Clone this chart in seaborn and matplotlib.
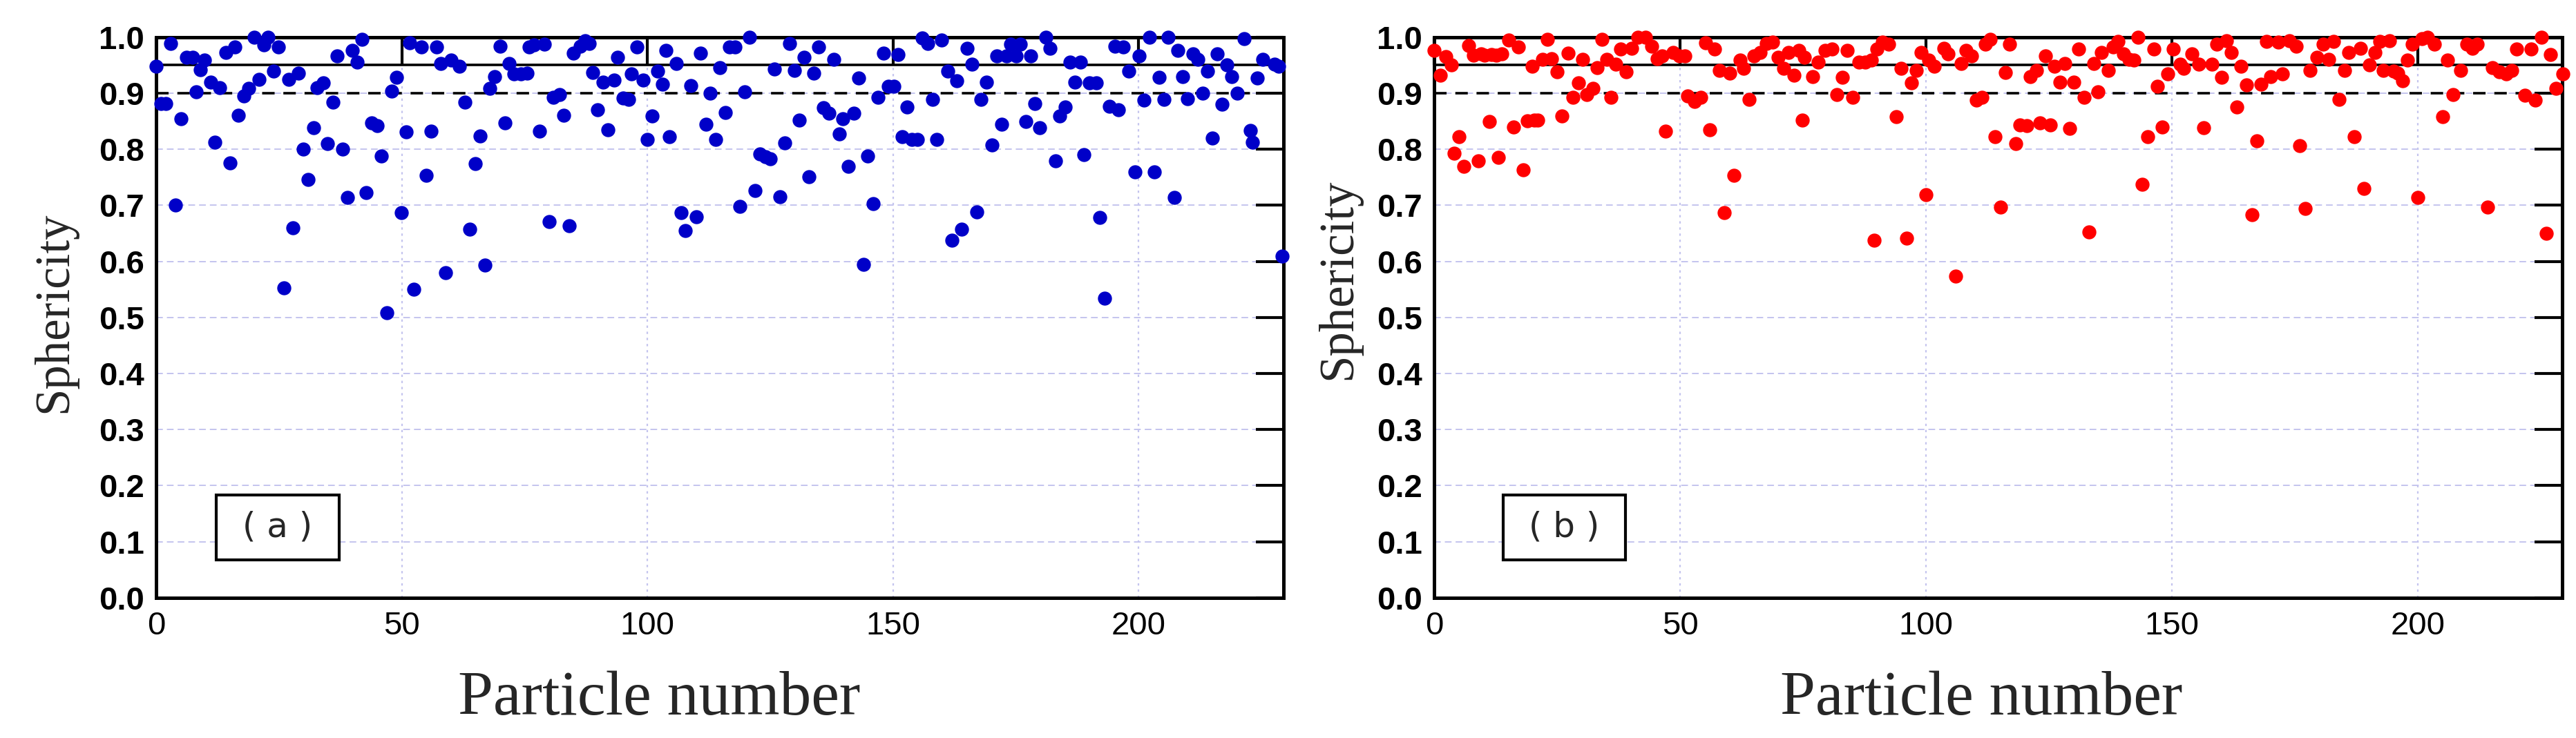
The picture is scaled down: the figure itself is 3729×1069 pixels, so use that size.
import numpy as np
import seaborn as sns
import matplotlib.pyplot as plt
from matplotlib.patches import Rectangle

# (a) particle number / sphericity
a_num = [0, 1, 2, 3, 4, 5, 6.2, 7.4, 8.1, 9, 9.9, 11.1, 12, 13, 14.2, 15, 16, 16.8, 17.9, 18.8,
         20, 20.9, 21.9, 22.8, 23.9, 24.9, 26, 27, 27.9, 29, 29.9, 30.9, 32, 32.7, 34, 34.9, 36, 36.9, 38, 38.9,
         39.9, 40.9, 41.9, 42.8, 43.9, 45, 45.9, 46.9, 47.9, 48.9, 49.9, 50.9, 51.6, 52.5, 54, 55, 55.9, 57.1, 58, 58.9,
         60.1, 61.8, 62.8, 63.8, 64.9, 65.9, 67, 67.9, 68.9, 70, 71, 71.9, 72.9, 74.3, 75.5, 76, 76.9, 78, 79, 80,
         80.9, 82.1, 83, 84.1, 84.9, 86.3, 87.3, 88.2, 88.9, 89.9, 91, 92, 93.2, 93.9, 95, 96.2, 96.7, 97.9, 99.1, 100,
         101, 102.1, 103, 103.8, 104.5, 105.9, 106.8, 107.7, 108.8, 109.9, 110.8, 111.9, 112.8, 113.9, 114.8, 115.8, 116.7, 117.9, 118.8, 119.8,
         120.8, 121.9, 122.9, 124, 125, 125.9, 127, 127.9, 128.9, 129.9, 130.9, 131.9, 132.9, 133.9, 134.9, 135.8, 136.9, 137.9, 139, 139.8,
         140.9, 142, 143, 144, 144.9, 146, 146.9, 148, 149, 150.2, 151, 151.9, 152.9, 153.8, 155, 155.9, 157.1, 158, 158.9, 159.9,
         161.1, 162, 162.9, 164, 165.1, 166, 167, 167.9, 169, 170.1, 171.1, 172.1, 173.1, 174, 175, 175.9, 177.1, 178, 178.9, 179.9,
         181.1, 182, 183.1, 183.9, 185, 186, 187, 188.1, 188.9, 190, 191.4, 192.1, 193.1, 194, 195.2, 195.9, 196.8, 198, 199.2, 200.1,
         201.1, 202.2, 203.2, 204.1, 205.1, 206, 207.2, 208, 209, 210, 211, 212, 213, 214, 215, 216, 217, 218, 219, 220,
         221.5, 222.7, 223.2, 224.1, 225.3, 227.6, 228.5, 229.2]
a_sph = [0.948, 0.882, 0.882, 0.989, 0.70, 0.854, 0.964, 0.964, 0.903, 0.942, 0.959, 0.92, 0.813, 0.91, 0.973, 0.776, 0.982, 0.861, 0.895, 0.909,
         1.0, 0.925, 0.986, 1.0, 0.939, 0.982, 0.553, 0.925, 0.66, 0.936, 0.80, 0.746, 0.838, 0.91, 0.918, 0.81, 0.884, 0.967, 0.80, 0.714,
         0.977, 0.955, 0.996, 0.723, 0.847, 0.842, 0.788, 0.508, 0.904, 0.929, 0.687, 0.831, 0.99, 0.55, 0.982, 0.754, 0.832, 0.982, 0.953, 0.58,
         0.959, 0.948, 0.884, 0.658, 0.774, 0.824, 0.594, 0.909, 0.93, 0.984, 0.847, 0.953, 0.934, 0.934, 0.936, 0.982, 0.986, 0.832, 0.987, 0.671,
         0.893, 0.898, 0.861, 0.664, 0.972, 0.984, 0.994, 0.989, 0.937, 0.87, 0.92, 0.835, 0.923, 0.964, 0.891, 0.889, 0.934, 0.982, 0.923, 0.818,
         0.859, 0.939, 0.916, 0.977, 0.822, 0.953, 0.687, 0.655, 0.914, 0.68, 0.971, 0.845, 0.90, 0.818, 0.946, 0.866, 0.982, 0.982, 0.698, 0.903,
         1.0, 0.726, 0.792, 0.787, 0.783, 0.943, 0.715, 0.811, 0.989, 0.941, 0.852, 0.964, 0.751, 0.936, 0.982, 0.874, 0.864, 0.96, 0.827, 0.854,
         0.77, 0.864, 0.927, 0.595, 0.788, 0.703, 0.893, 0.971, 0.913, 0.913, 0.969, 0.822, 0.876, 0.818, 0.818, 0.999, 0.989, 0.889, 0.818, 0.995,
         0.939, 0.638, 0.922, 0.658, 0.98, 0.952, 0.688, 0.889, 0.92, 0.808, 0.967, 0.845, 0.967, 0.987, 0.967, 0.987, 0.85, 0.967, 0.882, 0.838,
         1.0, 0.98, 0.78, 0.859, 0.875, 0.955, 0.92, 0.955, 0.79, 0.918, 0.918, 0.678, 0.534, 0.877, 0.984, 0.87, 0.982, 0.939, 0.76, 0.966,
         0.888, 1.0, 0.76, 0.928, 0.889, 1.0, 0.714, 0.977, 0.93, 0.89, 0.97, 0.96, 0.90, 0.94, 0.82, 0.97, 0.88, 0.95, 0.93, 0.90,
         0.998, 0.834, 0.813, 0.927, 0.96, 0.952, 0.948, 0.609]

# (b)
b_num = [0, 1.3, 2.4, 3.5, 4.1, 5.1, 6.1, 7.1, 8, 9, 9.5, 10.2, 11.2, 11.6, 12.6, 13.1, 13.8, 15.2, 16.1, 17.1,
         18.1, 18.9, 20, 20.4, 21.1, 22, 23.1, 23.9, 25, 26, 27.2, 28.2, 29.3, 30.2, 31.1, 32.3, 33.2, 34.1, 35.1, 36,
         36.9, 37.9, 39, 40.2, 41.4, 43, 44.2, 45.3, 46.3, 47, 48.6, 49.8, 51, 51.5, 53, 54.2, 55.2, 56.1, 57, 58,
         59, 60.1, 61, 62.2, 62.9, 64.1, 65, 66.3, 67.6, 68.8, 69.9, 71.1, 72, 73.2, 74.1, 74.8, 75.3, 76.9, 78.1, 79.5,
         80.9, 81.9, 83, 84, 85.1, 86.3, 87.7, 88.9, 89.4, 90, 91.2, 92.4, 94, 95, 96, 97.1, 98, 99, 100, 100.6,
         101.7, 103.6, 104.5, 106, 107.2, 108.1, 109.3, 110.2, 111.4, 112.1, 113, 114, 115.1, 116.2, 117, 118.2, 119.1, 120.5, 121.2, 122.4,
         123.1, 124.3, 125.2, 126.1, 127.2, 128.2, 129.2, 130.1, 131, 132.1, 133.1, 134.1, 135, 135.7, 137, 138, 139, 140.2, 141.3, 142.3,
         143.1, 144, 145, 146.3, 147.1, 148, 149.1, 150.2, 151.6, 152.3, 154, 155.4, 156.5, 158.1, 159.1, 160.1, 161.1, 162, 163.2, 164,
         165.2, 166.2, 167.3, 168.1, 169.2, 170, 171.6, 172.4, 173.8, 175.3, 176, 177.1, 178, 179.5, 180.7, 181.9, 182.9, 184, 185.1, 185.9,
         187.1, 188.3, 189, 190.2, 191.3, 192.2, 193, 194.2, 195, 195.9, 196.9, 197.9, 198.9, 200, 200.8, 202, 203.3, 205, 206, 207.2,
         208.7, 209.9, 211.1, 212.1, 214.1, 215.1, 216.6, 218, 219, 220, 221.8, 223, 223.9, 225.1, 226.1, 227, 228.1, 229.4]
b_sph = [0.977, 0.932, 0.965, 0.95, 0.793, 0.823, 0.77, 0.985, 0.968, 0.78, 0.97, 0.968, 0.85, 0.969, 0.968, 0.786, 0.97, 0.995, 0.84, 0.982,
         0.764, 0.851, 0.948, 0.852, 0.852, 0.96, 0.996, 0.962, 0.938, 0.86, 0.971, 0.893, 0.918, 0.96, 0.898, 0.909, 0.946, 0.996, 0.96, 0.893,
         0.952, 0.979, 0.938, 0.98, 1.0, 1.0, 0.984, 0.962, 0.966, 0.832, 0.973, 0.966, 0.966, 0.895, 0.885, 0.893, 0.99, 0.835, 0.979, 0.941,
         0.687, 0.936, 0.754, 0.959, 0.945, 0.889, 0.967, 0.973, 0.989, 0.991, 0.964, 0.945, 0.973, 0.932, 0.977, 0.852, 0.964, 0.93, 0.955, 0.977,
         0.979, 0.898, 0.929, 0.977, 0.893, 0.955, 0.955, 0.959, 0.638, 0.979, 0.991, 0.987, 0.858, 0.945, 0.641, 0.918, 0.941, 0.973, 0.719, 0.959,
         0.948, 0.98, 0.97, 0.574, 0.953, 0.977, 0.967, 0.888, 0.893, 0.987, 0.996, 0.822, 0.697, 0.937, 0.987, 0.81, 0.844, 0.842, 0.93, 0.941,
         0.847, 0.967, 0.844, 0.948, 0.92, 0.953, 0.837, 0.92, 0.979, 0.893, 0.652, 0.953, 0.902, 0.973, 0.941, 0.982, 0.993, 0.97, 0.96, 0.959,
         1.0, 0.737, 0.822, 0.979, 0.913, 0.84, 0.934, 0.979, 0.952, 0.945, 0.97, 0.952, 0.839, 0.952, 0.987, 0.929, 0.994, 0.973, 0.875, 0.948,
         0.915, 0.683, 0.815, 0.916, 0.993, 0.93, 0.991, 0.934, 0.994, 0.984, 0.806, 0.695, 0.941, 0.964, 0.987, 0.96, 0.993, 0.889, 0.941, 0.973,
         0.822, 0.98, 0.73, 0.95, 0.973, 0.993, 0.941, 0.994, 0.939, 0.936, 0.922, 0.959, 0.987, 0.714, 0.998, 1.0, 0.987, 0.858, 0.959, 0.898,
         0.941, 0.987, 0.98, 0.987, 0.697, 0.946, 0.938, 0.934, 0.941, 0.979, 0.896, 0.979, 0.888, 1.0, 0.65, 0.969, 0.909, 0.934]

xticks = [0, 50, 100, 150, 200]
yticks = np.round(np.arange(0, 1.01, 0.1), 1)

sns.set_style("white")
plt.rcParams['font.family'] = ['Liberation Sans', 'DejaVu Sans']

fig = plt.figure(figsize=(37.29, 10.69), dpi=100)
ax_a = fig.add_axes([0.0606, 0.19, 0.4377, 0.7596])
ax_b = fig.add_axes([0.5567, 0.19, 0.4379, 0.7596])

panels = [
    (ax_a, a_num, a_sph, "#0000c8", "( a )", 12.3, 229.5, (0.446, -0.13), (-0.0705, 0.509)),
    (ax_b, b_num, b_sph, "#ff0000", "( b )", 14.0, 229.3, (0.485, -0.13), (-0.065, 0.568)),
]

for ax, xs, ys, col, tag, box_x, xmax, xl_pos, yl_pos in panels:
    ax.xaxis.grid(True, color="#c4c4ee", linestyle=(0, (1.5, 2.5)), linewidth=1.6)
    ax.yaxis.grid(True, color="#c4c4ee", linestyle=(0, (5, 3)), linewidth=1.4)
    ax.set_axisbelow(True)
    sns.scatterplot(x=xs, y=ys, ax=ax, color=col, s=215, linewidth=0, zorder=4, clip_on=False)
    ax.axhline(0.95, color="black", lw=2.6, zorder=3)
    ax.axhline(0.90, color="black", lw=2.6, ls=(0, (5, 3.5)), zorder=3)

    ax.set_xlim(0, xmax)
    ax.set_ylim(0, 1.0)
    ax.set_xticks(xticks)
    ax.set_yticks(yticks)
    ax.set_yticklabels([f"{v:.1f}" for v in yticks], fontweight="bold")
    ax.tick_params(direction="in", length=29, width=3, top=True, right=True,
                   labelsize=34, colors="black", pad=14)
    ax.tick_params(axis="y", pad=12)
    for sp in ax.spines.values():
        sp.set_visible(True)
        sp.set_color("black")
        sp.set_linewidth(3.6)

    ax.set_xlabel("Particle number", fontsize=66, family="Liberation Serif")
    ax.xaxis.set_label_coords(*xl_pos)
    ax.set_ylabel("Sphericity", fontsize=51, family="Liberation Serif")
    ax.yaxis.set_label_coords(*yl_pos)

    ax.add_patch(Rectangle((box_x, 0.068), 24.9, 0.115, facecolor="white",
                           edgecolor="black", lw=3, zorder=5))
    ax.text(box_x + 12.45, 0.1255, tag, fontsize=36, family="DejaVu Sans",
            ha="center", va="center", zorder=6)

fig.savefig("out.png", dpi=100)
